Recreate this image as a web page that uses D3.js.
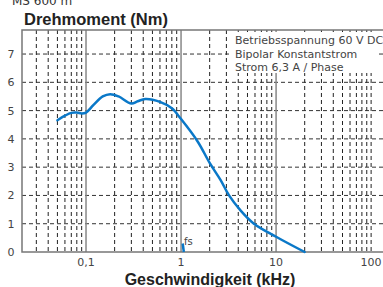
<!DOCTYPE html>
<html>
<head>
<meta charset="utf-8">
<script src="https://cdn.jsdelivr.net/npm/d3@7"></script>
<style>
  body { margin: 0; background: #fff; }
  svg { display: block; font-family: "DejaVu Sans", sans-serif; }
</style>
</head>
<body>
<div id="chart"></div>
<script>
// torque curve
const speedKHz = [0.05, 0.06, 0.07, 0.08, 0.09, 0.1, 0.12, 0.15, 0.18, 0.22, 0.3, 0.35, 0.42, 0.6, 0.8, 1.0, 1.5, 2.0, 2.6, 3.2, 4.2, 5.8, 10, 20];
const torqueNm = [4.66, 4.82, 4.92, 4.93, 4.9, 4.93, 5.2, 5.5, 5.58, 5.5, 5.25, 5.33, 5.41, 5.31, 5.08, 4.7, 3.9, 3.15, 2.55, 2.0, 1.48, 1.01, 0.54, 0];
// short stub at fs
const fsSpeed = [1.04, 1.07];
const fsTorque = [0.3, 0];

const yTicks = [0, 1, 2, 3, 4, 5, 6, 7];
const xTicks = [0.1, 1, 10, 100];
const xTickLabels = ["0,1", "1", "10", "100"];
const infoLines = ["Betriebsspannung 60 V DC", "Bipolar Konstantstrom", "Strom 6,3 A / Phase"];

const W = 383, H = 287;
const m = { left: 22, top: 30, bottom: 252, right: 385 };

const x = d3.scaleLog().domain([0.0212, 140]).range([m.left, m.right]);
const y = d3.scaleLinear().domain([0, 7.85]).range([m.bottom, m.top]);

const svg = d3.select('#chart').append('svg')
  .attr('width', W).attr('height', H);

// minor vertical grid
const minor = [];
[0.01, 0.1, 1, 10].forEach(d => {
  for (let k = 2; k <= 9; k++) minor.push(d * k);
});
minor.push(100);
const xd = x.domain();
svg.append('g').selectAll('line')
  .data(minor.filter(v => v > xd[0] && v < xd[1]))
  .enter().append('line')
  .attr('x1', d => x(d)).attr('x2', d => x(d))
  .attr('y1', m.top).attr('y2', m.bottom)
  .attr('stroke', '#222').attr('stroke-width', 1)
  .attr('stroke-dasharray', '4,3');

// horizontal grid
svg.append('g').selectAll('line')
  .data(yTicks.filter(v => v > 0))
  .enter().append('line')
  .attr('x1', m.left).attr('x2', m.right)
  .attr('y1', d => y(d)).attr('y2', d => y(d))
  .attr('stroke', '#333').attr('stroke-width', 1)
  .attr('stroke-dasharray', '4,3');

// decade lines
svg.append('g').selectAll('line')
  .data([0.1, 1, 10])
  .enter().append('line')
  .attr('x1', d => x(d)).attr('x2', d => x(d))
  .attr('y1', m.top).attr('y2', m.bottom)
  .attr('stroke', '#888').attr('stroke-width', 1.5);

// frame
svg.append('path')
  .attr('d', `M${m.right},${m.top}H${m.left}V${m.bottom}H${m.right}`)
  .attr('fill', 'none').attr('stroke', '#777').attr('stroke-width', 1.5);

// info box
svg.append('rect')
  .attr('x', 231).attr('y', 32).attr('width', 146).attr('height', 41)
  .attr('fill', '#fff');
svg.append('g').selectAll('text')
  .data(infoLines)
  .enter().append('text')
  .attr('x', 235).attr('y', (d, i) => 44 + i * 13.5)
  .attr('font-size', 11).attr('fill', '#444')
  .text(d => d);

// curve
const line = d3.line()
  .x((d, i) => x(speedKHz[i]))
  .y(d => y(d))
  .curve(d3.curveCatmullRom.alpha(0.5));
svg.append('path')
  .attr('d', line(torqueNm))
  .attr('fill', 'none').attr('stroke', '#0a78c8').attr('stroke-width', 2.5)
  .attr('stroke-linecap', 'round');

const fsLine = d3.line().x((d, i) => x(fsSpeed[i])).y(d => y(d));
svg.append('path')
  .attr('d', fsLine(fsTorque))
  .attr('fill', 'none').attr('stroke', '#0a78c8').attr('stroke-width', 2.5);
svg.append('text')
  .attr('x', x(1) + 3).attr('y', 245)
  .attr('font-size', 10).attr('fill', '#444')
  .text('fs');

// axis labels
svg.append('g').selectAll('text')
  .data(yTicks)
  .enter().append('text')
  .attr('x', 11).attr('y', d => y(d) + 4)
  .attr('text-anchor', 'middle')
  .attr('font-size', 11).attr('fill', '#444')
  .text(d => d);

svg.append('g').selectAll('text')
  .data(xTicks)
  .enter().append('text')
  .attr('x', d => Math.min(x(d), 373))
  .attr('y', 266)
  .attr('text-anchor', 'middle')
  .attr('font-size', 11).attr('fill', '#444')
  .text((d, i) => xTickLabels[i]);

// titles
svg.append('text')
  .attr('x', 12).attr('y', 5)
  .attr('font-size', 12).attr('fill', '#333')
  .text('MS 600 m');
svg.append('text')
  .attr('x', 24).attr('y', 25)
  .attr('font-family', 'Liberation Sans, Arial, sans-serif')
  .attr('font-size', 16.5).attr('font-weight', 'bold').attr('fill', '#222')
  .text('Drehmoment (Nm)');
svg.append('text')
  .attr('x', 210).attr('y', 285)
  .attr('text-anchor', 'middle')
  .attr('font-family', 'Liberation Sans, Arial, sans-serif')
  .attr('font-size', 16).attr('font-weight', 'bold').attr('fill', '#222')
  .text('Geschwindigkeit (kHz)');
</script>
</body>
</html>
